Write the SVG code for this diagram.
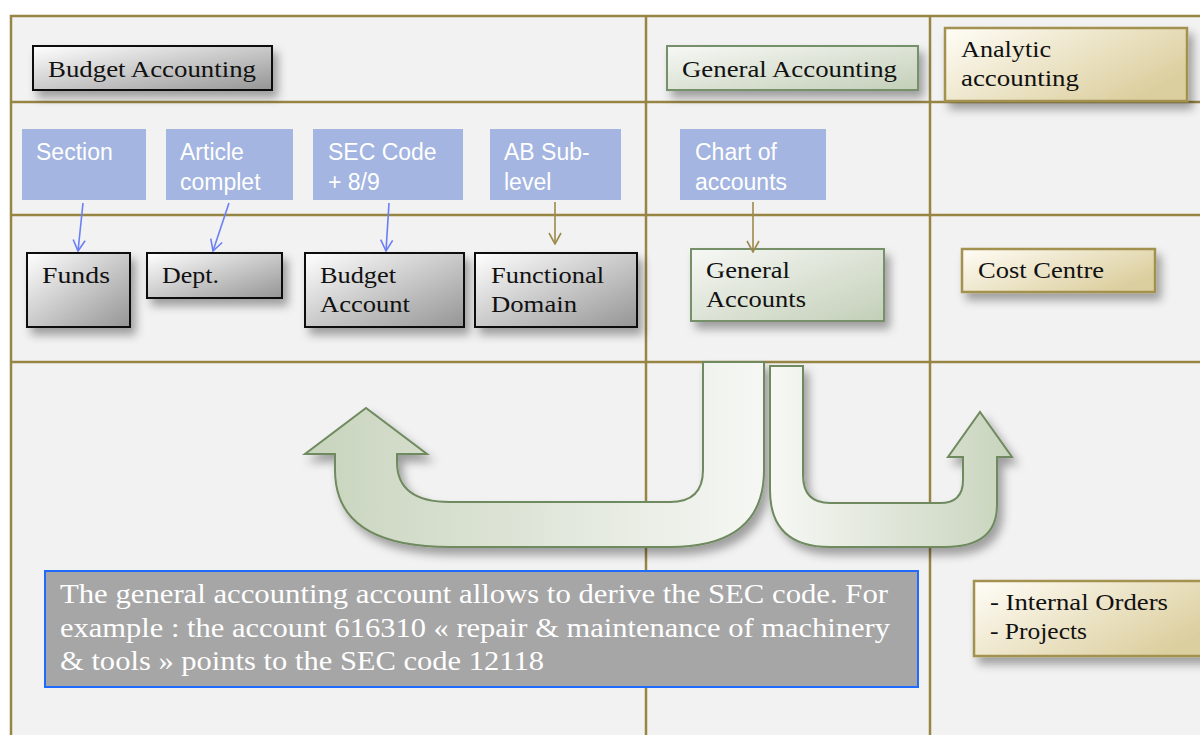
<svg xmlns="http://www.w3.org/2000/svg" width="1200" height="735" viewBox="0 0 1200 735">
<defs>
<style>
.grid{stroke:#978544;stroke-width:2.5;fill:none}
.gray{fill:url(#gGray);stroke:#111;stroke-width:2}
.green{fill:url(#gGreen);stroke:#76906a;stroke-width:2}
.tan{fill:url(#gTan);stroke:#a39150;stroke-width:2.5}
.blue{fill:#a3b5e0}
.lbl{font-family:"Liberation Serif","DejaVu Serif",serif;font-size:24px;fill:#111}
.bl{font-family:"Liberation Sans",Arial,sans-serif;font-size:23px;fill:#fff}
.note{font-family:"Liberation Serif","DejaVu Serif",serif;font-size:27px;fill:#fff}
.cb{stroke:#6b7ff5;stroke-width:1.6;fill:none}
.ct{stroke:#9c8a4c;stroke-width:1.6;fill:none}
.arrow{stroke:#6f8a5f;stroke-width:2}
</style>
<linearGradient id="gGray" x1="0" y1="0" x2="1" y2="1"><stop offset="0" stop-color="#ffffff"/><stop offset="1" stop-color="#959595"/></linearGradient>
<linearGradient id="gGreen" x1="0" y1="0" x2="1" y2="1"><stop offset="0" stop-color="#f7f8f5"/><stop offset="1" stop-color="#c3cfb8"/></linearGradient>
<linearGradient id="gTan" x1="0" y1="0" x2="1" y2="0.6"><stop offset="0" stop-color="#fffdf7"/><stop offset="1" stop-color="#dccf9f"/></linearGradient>
<linearGradient id="gArrL" x1="0" y1="0" x2="1" y2="0"><stop offset="0" stop-color="#c8d4bd"/><stop offset="1" stop-color="#f6f7f4"/></linearGradient>
<linearGradient id="gArrR" x1="0" y1="0" x2="1" y2="0"><stop offset="0" stop-color="#f7f8f5"/><stop offset="1" stop-color="#c8d4bd"/></linearGradient>
<filter id="sh" x="-20%" y="-30%" width="150%" height="180%"><feDropShadow dx="5" dy="7" stdDeviation="5" flood-color="#000" flood-opacity="0.35"/></filter>
<marker id="mb" viewBox="0 0 13 14" refX="12" refY="7" markerWidth="13" markerHeight="14" markerUnits="userSpaceOnUse" orient="auto"><path d="M1 1 L12 7 L1 13" fill="none" stroke="#6b7ff5" stroke-width="1.6"/></marker>
<marker id="mt" viewBox="0 0 13 14" refX="12" refY="7" markerWidth="13" markerHeight="14" markerUnits="userSpaceOnUse" orient="auto"><path d="M1 1 L12 7 L1 13" fill="none" stroke="#9c8a4c" stroke-width="1.6"/></marker>
</defs>
<rect width="1200" height="735" fill="#fff"/>
<rect x="11" y="16" width="1189" height="719" fill="#f2f2f2"/>
<g id="grid">
<path class="grid" d="M11 735 V16 H1200 M11 102 H1200 M11 215 H1200 M11 362 H1200"/>
<path class="grid" d="M646 16 V735 M930 16 V735" stroke-width="3"/>
</g>

<g id="n-budget-accounting"><rect class="gray" x="33" y="46" width="239" height="44" filter="url(#sh)"/><text class="lbl" x="48" y="77" textLength="208" lengthAdjust="spacingAndGlyphs">Budget Accounting</text></g>
<g id="n-general-accounting"><rect class="green" x="667" y="46" width="251" height="44" filter="url(#sh)"/><text class="lbl" x="682" y="77" textLength="215" lengthAdjust="spacingAndGlyphs">General Accounting</text></g>
<g id="n-analytic-accounting"><rect class="tan" x="945" y="28" width="242" height="73" filter="url(#sh)"/><text class="lbl" x="961" y="57" textLength="90" lengthAdjust="spacingAndGlyphs">Analytic</text><text class="lbl" x="961" y="86" textLength="118" lengthAdjust="spacingAndGlyphs">accounting</text></g>

<g id="n-section"><rect class="blue" x="22" y="129" width="124" height="71"/><text class="bl" x="36" y="160">Section</text></g>
<g id="n-article"><rect class="blue" x="166" y="129" width="127" height="71"/><text class="bl" x="180" y="160">Article</text><text class="bl" x="180" y="190">complet</text></g>
<g id="n-sec-code"><rect class="blue" x="313" y="129" width="150" height="71"/><text class="bl" x="328" y="160">SEC Code</text><text class="bl" x="328" y="190">+ 8/9</text></g>
<g id="n-ab-sublevel"><rect class="blue" x="490" y="129" width="131" height="71"/><text class="bl" x="504" y="160">AB Sub-</text><text class="bl" x="504" y="190">level</text></g>
<g id="n-chart"><rect class="blue" x="680" y="129" width="146" height="71"/><text class="bl" x="695" y="160">Chart of</text><text class="bl" x="695" y="190">accounts</text></g>

<g id="n-funds"><rect class="gray" x="27" y="253" width="103" height="74" filter="url(#sh)"/><text class="lbl" x="42" y="283" textLength="68" lengthAdjust="spacingAndGlyphs">Funds</text></g>
<g id="n-dept"><rect class="gray" x="147" y="253" width="135" height="45" filter="url(#sh)"/><text class="lbl" x="162" y="283" textLength="57" lengthAdjust="spacingAndGlyphs">Dept.</text></g>
<g id="n-budget-account"><rect class="gray" x="305" y="253" width="159" height="74" filter="url(#sh)"/><text class="lbl" x="320" y="283" textLength="76" lengthAdjust="spacingAndGlyphs">Budget</text><text class="lbl" x="320" y="312" textLength="90" lengthAdjust="spacingAndGlyphs">Account</text></g>
<g id="n-functional-domain"><rect class="gray" x="475" y="253" width="162" height="74" filter="url(#sh)"/><text class="lbl" x="491" y="283" textLength="113" lengthAdjust="spacingAndGlyphs">Functional</text><text class="lbl" x="491" y="312" textLength="86" lengthAdjust="spacingAndGlyphs">Domain</text></g>
<g id="n-general-accounts"><rect class="green" x="691" y="249" width="193" height="72" filter="url(#sh)"/><text class="lbl" x="706" y="278" textLength="84" lengthAdjust="spacingAndGlyphs">General</text><text class="lbl" x="706" y="307" textLength="100" lengthAdjust="spacingAndGlyphs">Accounts</text></g>
<g id="n-cost-centre"><rect class="tan" x="962" y="249" width="193" height="43" filter="url(#sh)"/><text class="lbl" x="978" y="278" textLength="126" lengthAdjust="spacingAndGlyphs">Cost Centre</text></g>
<g id="n-internal-orders"><rect class="tan" x="974" y="581" width="240" height="75" filter="url(#sh)"/><text class="lbl" x="990" y="610" textLength="178" lengthAdjust="spacingAndGlyphs">- Internal Orders</text><text class="lbl" x="990" y="639" textLength="97" lengthAdjust="spacingAndGlyphs">- Projects</text></g>

<g id="connectors">
<line class="cb" x1="83" y1="203" x2="78" y2="251" marker-end="url(#mb)"/>
<line class="cb" x1="229" y1="203" x2="213" y2="251" marker-end="url(#mb)"/>
<line class="cb" x1="389" y1="203" x2="386" y2="251" marker-end="url(#mb)"/>
<line class="ct" x1="555" y1="202" x2="555" y2="244" marker-end="url(#mt)"/>
<line class="ct" x1="753" y1="202" x2="753" y2="252" marker-end="url(#mt)"/>
</g>

<g id="n-arrow-left"><path class="arrow" fill="url(#gArrL)" filter="url(#sh)" d="M703 362 L764 362 L764 470 Q764 547 670 547 L450 547 Q335 547 335 470 L335 454 L305 454 L366 408 L427 454 L397 454 L397 462 Q397 502 450 502 L670 502 Q703 502 703 470 Z"/></g>
<g id="n-arrow-right"><path class="arrow" fill="url(#gArrR)" filter="url(#sh)" d="M770 366 L803 366 L803 475 Q803 503 830 503 L940 503 Q963 503 963 480 L963 457 L948 457 L980 412 L1012 457 L997 457 L997 505 Q997 547 945 547 L830 547 Q770 547 770 490 Z"/></g>

<g id="n-note"><rect x="45" y="571" width="873" height="116" fill="#a6a6a6" stroke="#1f6bff" stroke-width="2"/>
<text class="note" x="60" y="603" textLength="828" lengthAdjust="spacingAndGlyphs">The general accounting account allows to derive the SEC code. For</text>
<text class="note" x="60" y="637" textLength="830" lengthAdjust="spacingAndGlyphs">example : the account 616310 « repair &amp; maintenance of machinery</text>
<text class="note" x="60" y="670" textLength="484" lengthAdjust="spacingAndGlyphs">&amp; tools »  points to the SEC code 12118</text>
</g>
</svg>
